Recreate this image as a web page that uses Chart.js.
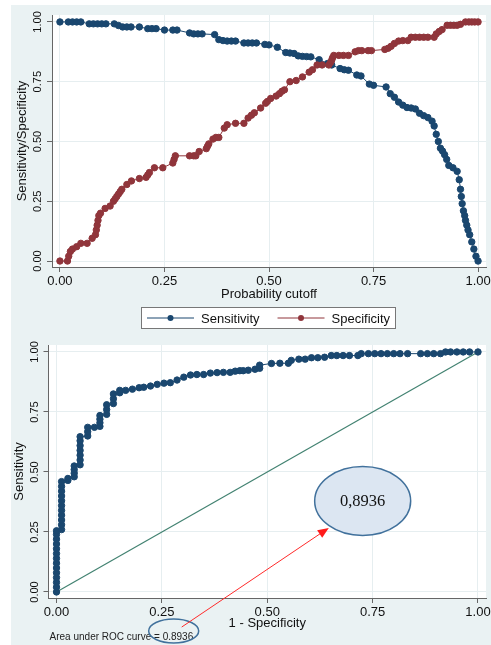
<!DOCTYPE html>
<html>
<head>
<meta charset="utf-8">
<script src="https://cdn.jsdelivr.net/npm/chart.js@4.4.1/dist/chart.umd.min.js"></script>
<style>
    html, body { margin: 0; padding: 0; background: #fff; }
    #wrap { position: relative; width: 491px; height: 645px; overflow: hidden; }
    #bg { position: absolute; left: 11px; top: 5px; width: 480px; height: 640px; background: #eaf2f3; }
    #cutoffChart { position: absolute; left: 0; top: 0; }
    #rocChart { position: absolute; left: 0; top: 335px; }
</style>
</head>
<body>
<div id="wrap">
    <div id="bg"></div>
    <canvas id="cutoffChart" width="491" height="335"></canvas>
    <canvas id="rocChart" width="491" height="310"></canvas>
</div>
<script>
// ---- datos ----
const tickValues = [0, 0.25, 0.5, 0.75, 1];

const sensCutoff = [0, 0.02, 0.03, 0.04, 0.05, 0.07, 0.08, 0.09, 0.10, 0.11,
    0.13, 0.14, 0.15, 0.16, 0.17, 0.19, 0.21, 0.22, 0.23, 0.25,
    0.27, 0.28, 0.31, 0.32, 0.33, 0.34, 0.37, 0.38, 0.39, 0.40,
    0.41, 0.42, 0.44, 0.45, 0.46, 0.47, 0.49, 0.50, 0.52, 0.54,
    0.55, 0.56, 0.57, 0.58, 0.59, 0.60, 0.62, 0.64, 0.65, 0.67,
    0.68, 0.69, 0.71, 0.72, 0.74, 0.75, 0.78, 0.79, 0.80, 0.81,
    0.82, 0.83, 0.84, 0.85, 0.86, 0.87, 0.88, 0.89, 0.895, 0.90,
    0.905, 0.91, 0.915, 0.92, 0.925, 0.93, 0.94, 0.95, 0.955, 0.958,
    0.96, 0.962, 0.965, 0.968, 0.97, 0.973, 0.976, 0.98, 0.985, 0.99,
    0.995, 1.0];
const sensitivity = [1, 1, 1, 1, 1, 0.992, 0.992, 0.992, 0.992, 0.992,
    0.992, 0.985, 0.979, 0.979, 0.979, 0.979, 0.972, 0.972, 0.972, 0.966,
    0.966, 0.966, 0.954, 0.95, 0.95, 0.95, 0.947, 0.926, 0.922, 0.92,
    0.92, 0.92, 0.912, 0.912, 0.912, 0.912, 0.906, 0.904, 0.894, 0.872,
    0.87, 0.868, 0.858, 0.856, 0.855, 0.854, 0.842, 0.826, 0.82, 0.805,
    0.80, 0.798, 0.778, 0.774, 0.74, 0.735, 0.728, 0.70, 0.685, 0.665,
    0.652, 0.642, 0.64, 0.636, 0.618, 0.608, 0.60, 0.585, 0.565, 0.53,
    0.50, 0.472, 0.46, 0.445, 0.425, 0.40, 0.39, 0.375, 0.34, 0.30,
    0.27, 0.24, 0.21, 0.19, 0.17, 0.15, 0.13, 0.11, 0.08, 0.05,
    0.02, 0];

const specCutoff = [0, 0.018, 0.021, 0.025, 0.03, 0.04, 0.05, 0.065, 0.077, 0.085,
    0.087, 0.089, 0.091, 0.093, 0.097, 0.108, 0.12, 0.128, 0.132, 0.136,
    0.14, 0.144, 0.148, 0.16, 0.171, 0.19, 0.206, 0.21, 0.214, 0.226,
    0.246, 0.27, 0.273, 0.276, 0.31, 0.32, 0.325, 0.333, 0.35, 0.353,
    0.356, 0.366, 0.373, 0.38, 0.393, 0.40, 0.42, 0.44, 0.45, 0.458,
    0.465, 0.48, 0.492, 0.496, 0.504, 0.517, 0.525, 0.531, 0.537, 0.55,
    0.565, 0.58, 0.596, 0.604, 0.615, 0.627, 0.643, 0.647, 0.65, 0.652,
    0.655, 0.667, 0.678, 0.69, 0.706, 0.714, 0.722, 0.737, 0.745, 0.777,
    0.785, 0.792, 0.80, 0.81, 0.82, 0.832, 0.84, 0.85, 0.86, 0.87,
    0.88, 0.895, 0.90, 0.907, 0.914, 0.926, 0.934, 0.942, 0.95, 0.958,
    0.97, 0.978, 0.985, 0.992, 1.0];
const specificity = [0, 0, 0.02, 0.04, 0.05, 0.06, 0.074, 0.074, 0.095, 0.11,
    0.13, 0.15, 0.17, 0.19, 0.20, 0.22, 0.23, 0.25, 0.26, 0.27,
    0.28, 0.29, 0.30, 0.32, 0.335, 0.345, 0.35, 0.36, 0.37, 0.39,
    0.39, 0.41, 0.425, 0.44, 0.44, 0.44, 0.44, 0.458, 0.47, 0.48,
    0.49, 0.51, 0.517, 0.517, 0.556, 0.57, 0.576, 0.576, 0.598, 0.61,
    0.62, 0.64, 0.66, 0.667, 0.68, 0.69, 0.70, 0.71, 0.716, 0.75,
    0.755, 0.77, 0.79, 0.80, 0.82, 0.82, 0.82, 0.83, 0.84, 0.85,
    0.86, 0.86, 0.86, 0.86, 0.875, 0.88, 0.88, 0.88, 0.88, 0.885,
    0.89, 0.898, 0.91, 0.92, 0.922, 0.922, 0.936, 0.936, 0.936, 0.936,
    0.936, 0.936, 0.95, 0.96, 0.968, 0.986, 0.986, 0.986, 0.986, 0.99,
    1, 1, 1, 1, 1];

// curva ROC: 1 - especificidad / sensibilidad
const rocFpr = [0, 0, 0, 0, 0, 0, 0, 0, 0, 0, 0, 0, 0, 0,
    0.012, 0.012, 0.012, 0.012, 0.012, 0.012, 0.012, 0.012, 0.012, 0.012, 0.012,
    0.027, 0.027,
    0.042, 0.042, 0.042, 0.042,
    0.056, 0.056, 0.056, 0.056, 0.056, 0.056, 0.056,
    0.074, 0.074, 0.074,
    0.09,
    0.103, 0.103, 0.103, 0.103,
    0.119, 0.119, 0.119,
    0.135, 0.135, 0.135,
    0.15, 0.15,
    0.164, 0.18, 0.196, 0.207, 0.223, 0.239, 0.255, 0.27, 0.286, 0.302,
    0.318, 0.333, 0.349, 0.365, 0.381, 0.396, 0.412, 0.424, 0.435, 0.443,
    0.455, 0.471, 0.482, 0.482, 0.51, 0.53, 0.55, 0.557, 0.575, 0.59,
    0.605, 0.62, 0.636, 0.652, 0.665, 0.68, 0.695, 0.715, 0.723, 0.74,
    0.755, 0.77, 0.785, 0.80, 0.815, 0.833, 0.864, 0.88, 0.895, 0.911,
    0.923, 0.935, 0.95, 0.965, 0.98, 1.0];
const rocTpr = [0, 0.02, 0.04, 0.06, 0.08, 0.10, 0.12, 0.14, 0.16, 0.18, 0.20, 0.22, 0.24, 0.255,
    0.26, 0.28, 0.30, 0.32, 0.34, 0.36, 0.38, 0.40, 0.42, 0.44, 0.46,
    0.465, 0.473,
    0.48, 0.495, 0.51, 0.525,
    0.53, 0.55, 0.57, 0.59, 0.61, 0.63, 0.647,
    0.65, 0.668, 0.686,
    0.686,
    0.69, 0.705, 0.72, 0.735,
    0.74, 0.76, 0.78,
    0.785, 0.805, 0.825,
    0.83, 0.84,
    0.84, 0.845, 0.851, 0.853, 0.858, 0.865, 0.87, 0.872, 0.883, 0.895,
    0.904, 0.906, 0.906, 0.912, 0.914, 0.915, 0.915, 0.92, 0.922, 0.922,
    0.924, 0.928, 0.932, 0.945, 0.952, 0.953, 0.953, 0.965, 0.97, 0.97,
    0.976, 0.976, 0.978, 0.985, 0.985, 0.985, 0.985, 0.985, 0.993, 0.993,
    0.993, 0.993, 0.993, 0.993, 0.993, 0.993, 0.993, 0.993, 0.993, 0.993,
    1, 1, 1, 1, 1, 1];
const refLineX = [0, 1];
const refLineY = [0, 1];
const aucText = 'Area under ROC curve = 0.8936';
const aucBubble = '0,8936';

// ---- estilo ----
const FONT = '"Liberation Sans", Arial, sans-serif';
const SERIF = '"Liberation Serif", "Times New Roman", serif';
const NAVY = '#1a476f';
const MAROON = '#90353b';
const GREEN = '#428271';

const toPoints = (xs, ys) => xs.map((x, i) => ({ x: x, y: ys[i] }));

function makeAxis(title, isX, size) {
    return {
        type: 'linear',
        position: isX ? 'bottom' : 'left',
        min: isX ? -0.019 : -0.025,
        max: isX ? 1.019 : 1.029,
        afterBuildTicks: s => { s.ticks = tickValues.map(v => ({ value: v })); },
        afterFit: s => {
            if (isX) s.height = size; else s.width = size;
            s.paddingLeft = 0; s.paddingRight = 0; s.paddingTop = 0; s.paddingBottom = 0;
        },
        ticks: {
            display: isX,
            callback: v => Number(v).toFixed(2),
            color: '#111',
            font: { family: FONT, size: 13 },
            padding: 2,
            maxRotation: 0,
            autoSkip: false
        },
        grid: { color: '#e6eef0', lineWidth: 1, tickColor: '#666', tickLength: 5 },
        border: { color: '#666', width: 1 },
        title: { display: true, text: title, color: '#111', font: { family: FONT, size: 13 }, padding: 0 }
    };
}

// fondo blanco del area de trazado
const plotBg = {
    id: 'plotBg',
    beforeDraw(chart) {
        const { ctx, chartArea: a } = chart;
        ctx.save();
        ctx.fillStyle = '#fff';
        ctx.fillRect(a.left, a.top, a.right - a.left, a.bottom - a.top);
        ctx.restore();
    }
};

// etiquetas del eje y giradas (estilo Stata)
const yTickLabels = {
    id: 'yTickLabels',
    afterDraw(chart) {
        const { ctx, chartArea } = chart;
        const s = chart.scales.y;
        ctx.save();
        ctx.font = '11px ' + FONT;
        ctx.fillStyle = '#111';
        ctx.textAlign = 'center';
        ctx.textBaseline = 'middle';
        s.ticks.forEach(t => {
            ctx.save();
            ctx.translate(chartArea.left - 14, s.getPixelForValue(t.value));
            ctx.rotate(-Math.PI / 2);
            ctx.fillText(t.value.toFixed(2), 0, 0);
            ctx.restore();
        });
        ctx.restore();
    }
};

// leyenda con recuadro, linea y punto
const boxLegend = {
    id: 'boxLegend',
    afterDraw(chart) {
        const { ctx, chartArea: a } = chart;
        const items = chart.data.datasets;
        const lineLen = 47, gap = 7, between = 18, pad = 6;
        ctx.save();
        ctx.font = '13px ' + FONT;
        const widths = items.map(d => lineLen + gap + ctx.measureText(d.label).width);
        const total = widths.reduce((p, w) => p + w, 0) + between * (items.length - 1) + pad * 2;
        const cy = a.bottom + 51;
        let x = Math.round((a.left + a.right) / 2 - total / 2);
        ctx.fillStyle = '#fff';
        ctx.fillRect(x, cy - 11, total, 22);
        ctx.strokeStyle = '#777';
        ctx.lineWidth = 1;
        ctx.strokeRect(x + 0.5, cy - 10.5, Math.round(total) - 1, 21);
        x += pad;
        items.forEach((d, i) => {
            ctx.strokeStyle = d.borderColor;
            ctx.beginPath();
            ctx.moveTo(x, cy);
            ctx.lineTo(x + lineLen, cy);
            ctx.stroke();
            ctx.fillStyle = d.borderColor;
            ctx.beginPath();
            ctx.arc(x + lineLen / 2, cy, 3, 0, Math.PI * 2);
            ctx.fill();
            ctx.fillStyle = '#111';
            ctx.textAlign = 'left';
            ctx.textBaseline = 'middle';
            ctx.fillText(d.label, x + lineLen + gap, cy + 1);
            x += widths[i] + between;
        });
        ctx.restore();
    }
};

// anotaciones del grafico ROC
const rocNotes = {
    id: 'rocNotes',
    afterDraw(chart) {
        const { ctx } = chart;
        const sx = chart.scales.x, sy = chart.scales.y;
        const px = v => sx.getPixelForValue(v);
        const py = v => sy.getPixelForValue(v);
        ctx.save();

        // texto AUC
        ctx.font = '10px ' + FONT;
        ctx.fillStyle = '#222';
        ctx.textAlign = 'left';
        ctx.textBaseline = 'middle';
        ctx.fillText(aucText, px(-0.0165), py(-0.1875));

        // elipse pequena
        ctx.strokeStyle = '#41719c';
        ctx.lineWidth = 1.5;
        ctx.beginPath();
        ctx.ellipse(px(0.278), py(-0.1625), 25, 12, 0, 0, Math.PI * 2);
        ctx.stroke();

        // flecha roja
        const x0 = px(0.297), y0 = py(-0.146), x1 = px(0.646), y1 = py(0.267);
        const ang = Math.atan2(y1 - y0, x1 - x0);
        ctx.strokeStyle = '#ff2a2a';
        ctx.fillStyle = '#ff1a1a';
        ctx.lineWidth = 1;
        ctx.beginPath();
        ctx.moveTo(x0, y0);
        ctx.lineTo(x1 - 8 * Math.cos(ang), y1 - 8 * Math.sin(ang));
        ctx.stroke();
        ctx.beginPath();
        ctx.moveTo(x1, y1);
        ctx.lineTo(x1 - 11 * Math.cos(ang) + 4.5 * Math.sin(ang), y1 - 11 * Math.sin(ang) - 4.5 * Math.cos(ang));
        ctx.lineTo(x1 - 11 * Math.cos(ang) - 4.5 * Math.sin(ang), y1 - 11 * Math.sin(ang) + 4.5 * Math.cos(ang));
        ctx.closePath();
        ctx.fill();

        // elipse grande con el valor
        const cx = px(0.7264), cy = py(0.379);
        ctx.beginPath();
        ctx.ellipse(cx, cy, 48, 34.5, 0, 0, Math.PI * 2);
        ctx.fillStyle = '#dce6f2';
        ctx.fill();
        ctx.strokeStyle = '#41719c';
        ctx.lineWidth = 1.5;
        ctx.stroke();
        ctx.fillStyle = '#111';
        ctx.font = '16.5px ' + SERIF;
        ctx.textAlign = 'center';
        ctx.textBaseline = 'middle';
        ctx.fillText(aucBubble, cx, cy + 1);
        ctx.restore();
    }
};

const baseOptions = (padding, xTitle, yTitle, xHeight) => ({
    responsive: false,
    animation: false,
    layout: { padding: padding },
    plugins: { legend: { display: false }, tooltip: { enabled: false } },
    scales: {
        x: makeAxis(xTitle, true, xHeight),
        y: makeAxis(yTitle, false, 37)
    }
});

new Chart(document.getElementById('cutoffChart'), {
    type: 'scatter',
    data: {
        datasets: [{
            label: 'Sensitivity',
            data: toPoints(sensCutoff, sensitivity),
            showLine: true,
            order: 1,
            borderColor: NAVY,
            backgroundColor: NAVY,
            borderWidth: 1,
            pointRadius: 3.2,
            pointBorderWidth: 1
        }, {
            label: 'Specificity',
            data: toPoints(specCutoff, specificity),
            showLine: true,
            order: 0,
            borderColor: MAROON,
            backgroundColor: MAROON,
            borderWidth: 1,
            pointRadius: 3.2,
            pointBorderWidth: 1
        }]
    },
    options: baseOptions({ left: 15, right: 0, top: 15, bottom: 33 }, 'Probability cutoff', 'Sensitivity/Specificity', 35),
    plugins: [plotBg, yTickLabels, boxLegend]
});

new Chart(document.getElementById('rocChart'), {
    type: 'scatter',
    data: {
        datasets: [{
            label: 'ROC',
            data: toPoints(rocFpr, rocTpr),
            showLine: true,
            borderColor: NAVY,
            backgroundColor: NAVY,
            borderWidth: 1,
            pointRadius: 3.2,
            pointBorderWidth: 1
        }, {
            label: 'Reference',
            data: toPoints(refLineX, refLineY),
            showLine: true,
            borderColor: GREEN,
            borderWidth: 1.2,
            pointRadius: 0
        }]
    },
    options: baseOptions({ left: 11.5, right: 1.5, top: 10, bottom: 14 }, '1 - Specificity', 'Sensitivity', 33),
    plugins: [plotBg, yTickLabels, rocNotes]
});
</script>
</body>
</html>
